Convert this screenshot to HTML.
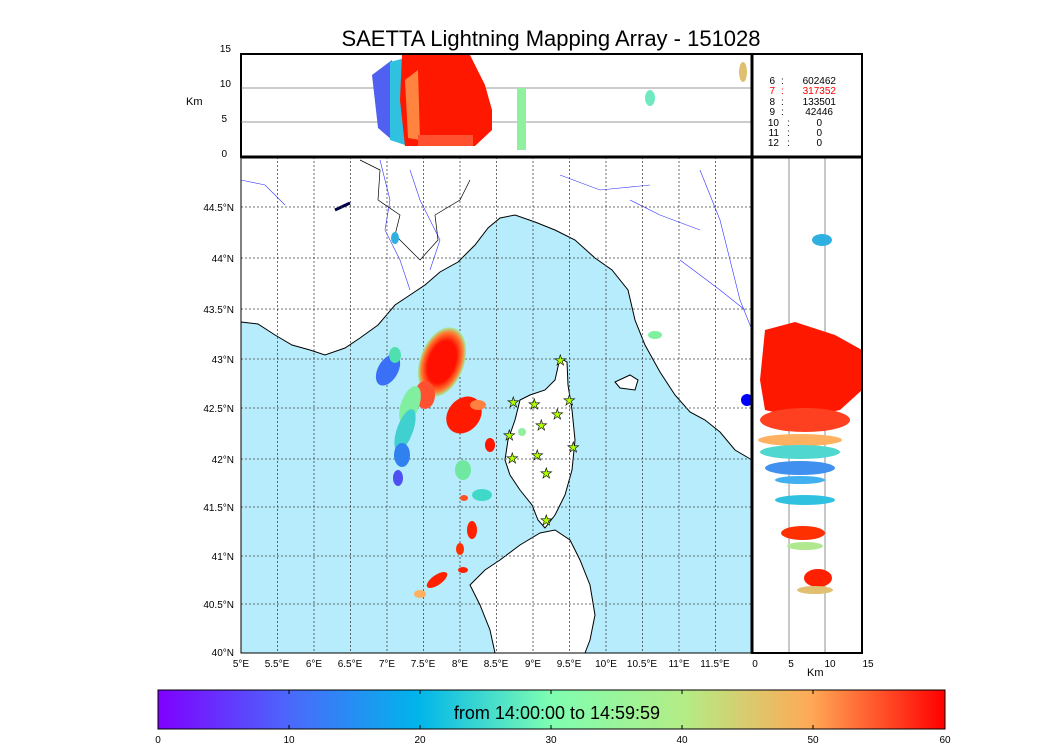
<!DOCTYPE html>
<html><head><meta charset="utf-8"><style>
body{margin:0;background:#fff;width:1050px;height:750px;overflow:hidden;font-family:"Liberation Sans",sans-serif}
</style></head><body>
<svg width="1050" height="750" viewBox="0 0 1050 750" xmlns="http://www.w3.org/2000/svg" font-family="Liberation Sans, sans-serif">
<defs>
<linearGradient id="rb" x1="0" x2="1" y1="0" y2="0">
<stop offset="0" stop-color="#7f00ff"/><stop offset="0.17" stop-color="#4a6afb"/><stop offset="0.33" stop-color="#00b5eb"/><stop offset="0.5" stop-color="#7ffeb1"/><stop offset="0.67" stop-color="#b4ec85"/><stop offset="0.83" stop-color="#ffa956"/><stop offset="1" stop-color="#ff0000"/>
</linearGradient>
<radialGradient id="redg"><stop offset="0.6" stop-color="#ff1000"/><stop offset="0.85" stop-color="#ff7a30"/><stop offset="1" stop-color="#9ff0a0"/></radialGradient>
</defs>
<text x="551" y="46" font-size="22" text-anchor="middle">SAETTA Lightning Mapping Array - 151028</text>

<!-- main map -->
<rect x="241" y="157" width="511" height="496" fill="#fff"/>
<path d="M241,322 L258,324 L275,335 L292,345 L310,350 L325,355 L345,348 L360,338 L378,325 L395,305 L410,295 L425,285 L440,272 L458,262 L475,245 L488,228 L500,218 L515,215 L535,222 L555,230 L575,240 L595,258 L612,270 L628,290 L635,320 L645,345 L660,372 L675,395 L690,412 L705,420 L720,432 L735,450 L752,460 L752,653 L241,653 Z" fill="#b6ecfb" stroke="#000" stroke-width="1"/>
<path d="M560,358 L567,362 L568,385 L572,410 L575,440 L572,470 L565,495 L555,515 L545,528 L538,520 L532,505 L520,490 L510,475 L505,460 L508,440 L515,420 L520,400 L530,395 L545,390 L555,380 Z" fill="#fff" stroke="#000"/>
<path d="M540,533 L555,530 L570,540 L580,560 L590,585 L595,615 L590,640 L585,653 L495,653 L490,630 L480,605 L470,585 L485,570 L500,560 L520,545 Z" fill="#fff" stroke="#000"/>
<path d="M615,382 L630,375 L638,380 L635,390 L620,388 Z" fill="#fff" stroke="#000"/>
<g stroke="#33f" stroke-width="0.6" fill="none">
<path d="M241,180 L265,185 L285,205"/><path d="M380,160 L390,200 L385,230 L400,260 L410,290"/><path d="M700,170 L720,220 L740,300 L752,330"/><path d="M630,200 L660,215 L700,230"/><path d="M560,175 L600,190 L650,185"/><path d="M680,260 L720,290 L745,310"/>
<path d="M410,170 L420,200 L440,240 L430,270"/>
</g>
<g stroke="#000" stroke-width="0.7" fill="none"><path d="M360,160 L380,170 L378,200 L400,215 L395,235 L420,260 L438,240 L435,215 L460,200 L470,180"/></g>
<path d="M335,210 L350,203" stroke="#004" stroke-width="3"/>
<g stroke="#444" stroke-width="0.8" stroke-dasharray="2,2">
<path d="M277.5,157V653M314,157V653M350.5,157V653M387,157V653M423.5,157V653M460,157V653M496.5,157V653M533,157V653M569.5,157V653M606,157V653M642.5,157V653M679,157V653M715.5,157V653"/>
<path d="M241,207H752M241,258H752M241,309H752M241,359H752M241,408H752M241,459H752M241,507H752M241,556H752M241,604H752"/>
</g>
<g>
<ellipse cx="442" cy="362" rx="22" ry="36" fill="url(#redg)" transform="rotate(20 442 362)"/>
<ellipse cx="425" cy="395" rx="10" ry="14" fill="#ff5030"/>
<ellipse cx="410" cy="405" rx="9" ry="20" fill="#80f0a0" transform="rotate(20 410 405)"/>
<ellipse cx="405" cy="430" rx="8" ry="22" fill="#40d0d0" transform="rotate(20 405 430)"/>
<ellipse cx="402" cy="455" rx="8" ry="12" fill="#3080f0"/>
<ellipse cx="398" cy="478" rx="5" ry="8" fill="#5050f0"/>
<ellipse cx="388" cy="370" rx="10" ry="17" fill="#3a70f5" transform="rotate(30 388 370)"/>
<ellipse cx="395" cy="355" rx="6" ry="8" fill="#50e0b0"/>
<ellipse cx="464" cy="415" rx="16" ry="20" fill="#ff1a00" transform="rotate(40 464 415)"/>
<ellipse cx="478" cy="405" rx="8" ry="5" fill="#ff8040"/>
<ellipse cx="490" cy="445" rx="5" ry="7" fill="#ff1500"/>
<ellipse cx="463" cy="470" rx="8" ry="10" fill="#70e8a0"/>
<ellipse cx="482" cy="495" rx="10" ry="6" fill="#40d8c8"/>
<ellipse cx="464" cy="498" rx="4" ry="3" fill="#ff5020"/>
<ellipse cx="472" cy="530" rx="5" ry="9" fill="#ff2000"/>
<ellipse cx="460" cy="549" rx="4" ry="6" fill="#ff3000"/>
<ellipse cx="463" cy="570" rx="5" ry="3" fill="#ff2000"/>
<ellipse cx="437" cy="580" rx="12" ry="5" fill="#ff2000" transform="rotate(-35 437 580)"/>
<ellipse cx="420" cy="594" rx="6" ry="4" fill="#ffb060"/>
<ellipse cx="655" cy="335" rx="7" ry="4" fill="#80f0a0"/>
<ellipse cx="395" cy="238" rx="4" ry="6" fill="#30b0e0"/>
<ellipse cx="522" cy="432" rx="4" ry="4" fill="#90f0a0"/>
</g>
<g fill="#afff00" stroke="#000" stroke-width="0.6" font-size="14">
<text x="554" y="365">★</text><text x="507" y="407">★</text><text x="528" y="409">★</text><text x="563" y="405">★</text><text x="551" y="419">★</text><text x="535" y="430">★</text><text x="503" y="440">★</text><text x="567" y="452">★</text><text x="506" y="463">★</text><text x="531" y="460">★</text><text x="540" y="478">★</text><text x="540" y="525">★</text>
</g>
<rect x="241" y="157" width="511" height="496" fill="none" stroke="#000" stroke-width="1"/>
<g font-size="10" text-anchor="end">
<text x="234" y="211">44.5°N</text><text x="234" y="262">44°N</text><text x="234" y="313">43.5°N</text><text x="234" y="363">43°N</text><text x="234" y="412">42.5°N</text><text x="234" y="463">42°N</text><text x="234" y="511">41.5°N</text><text x="234" y="560">41°N</text><text x="234" y="608">40.5°N</text><text x="234" y="656">40°N</text>
</g>
<g font-size="10" text-anchor="middle">
<text x="241" y="667">5°E</text><text x="277" y="667">5.5°E</text><text x="314" y="667">6°E</text><text x="350" y="667">6.5°E</text><text x="387" y="667">7°E</text><text x="423" y="667">7.5°E</text><text x="460" y="667">8°E</text><text x="496" y="667">8.5°E</text><text x="533" y="667">9°E</text><text x="569" y="667">9.5°E</text><text x="606" y="667">10°E</text><text x="642" y="667">10.5°E</text><text x="679" y="667">11°E</text><text x="715" y="667">11.5°E</text>
</g>

<!-- top panel -->
<rect x="241" y="54" width="511" height="103" fill="#fff" stroke="#000" stroke-width="2"/>
<path d="M241,88H752M241,122H752" stroke="#777" stroke-width="0.8"/>
<path d="M372,75 L392,60 L392,140 L378,128 Z" fill="#5060f0"/>
<path d="M390,62 L405,58 L405,145 L390,140 Z" fill="#30c0e0"/>
<path d="M402,55 L470,55 L485,85 L492,110 L492,130 L475,146 L405,146 L400,100 Z" fill="#ff1800"/>
<path d="M405,80 L418,70 L420,140 L408,138 Z" fill="#ffa050" opacity="0.8"/>
<rect x="418" y="135" width="55" height="11" fill="#ff5030"/>
<rect x="517" y="88" width="9" height="62" fill="#90f0a0"/>
<ellipse cx="650" cy="98" rx="5" ry="8" fill="#70e8c0"/>
<ellipse cx="743" cy="72" rx="4" ry="10" fill="#e0c070"/>
<g font-size="10" text-anchor="end"><text x="231" y="52">15</text><text x="231" y="87">10</text><text x="227" y="122">5</text><text x="227" y="157">0</text></g>
<text x="186" y="105" font-size="11">Km</text>

<!-- legend panel -->
<rect x="752" y="54" width="110" height="103" fill="#fff" stroke="#000" stroke-width="2"/>
<g font-size="10">
<g text-anchor="end"><text x="775" y="84">6</text><text x="775" y="94" fill="#f00">7</text><text x="775" y="105">8</text><text x="775" y="115">9</text><text x="779" y="126">10</text><text x="779" y="136">11</text><text x="779" y="146">12</text></g>
<g><text x="781" y="84">:</text><text x="781" y="94" fill="#f00">:</text><text x="781" y="105">:</text><text x="781" y="115">:</text><text x="787" y="126">:</text><text x="787" y="136">:</text><text x="787" y="146">:</text></g>
<g text-anchor="end"><text x="836" y="84">602462</text><text x="836" y="94" fill="#f00">317352</text><text x="836" y="105">133501</text><text x="833" y="115">42446</text><text x="822" y="126">0</text><text x="822" y="136">0</text><text x="822" y="146">0</text></g>
</g>

<!-- right panel -->
<rect x="752" y="157" width="110" height="496" fill="#fff"/>
<path d="M789,157V653M825,157V653" stroke="#777" stroke-width="0.8"/>
<path d="M765,330 L795,322 L835,335 L862,350 L862,390 L840,410 L800,418 L765,410 L760,380 Z" fill="#ff1800"/>
<ellipse cx="805" cy="420" rx="45" ry="12" fill="#ff4020"/>
<ellipse cx="800" cy="440" rx="42" ry="6" fill="#ffb060"/>
<ellipse cx="800" cy="452" rx="40" ry="7" fill="#50d8d0"/>
<ellipse cx="800" cy="468" rx="35" ry="7" fill="#4090f0"/>
<ellipse cx="800" cy="480" rx="25" ry="4" fill="#40b0f0"/>
<ellipse cx="805" cy="500" rx="30" ry="5" fill="#30c0e0"/>
<ellipse cx="803" cy="533" rx="22" ry="7" fill="#ff3000"/>
<ellipse cx="805" cy="546" rx="18" ry="4" fill="#b0e890"/>
<ellipse cx="818" cy="578" rx="14" ry="9" fill="#ff2000"/>
<ellipse cx="815" cy="590" rx="18" ry="4" fill="#e0c070"/>
<ellipse cx="822" cy="240" rx="10" ry="6" fill="#30b0e0"/>
<circle cx="747" cy="400" r="6" fill="#00f"/>
<rect x="752" y="157" width="110" height="496" fill="none" stroke="#000" stroke-width="2"/>
<line x1="752" y1="54" x2="752" y2="653" stroke="#000" stroke-width="3"/>
<line x1="241" y1="157" x2="862" y2="157" stroke="#000" stroke-width="3"/>
<g font-size="10" text-anchor="middle"><text x="755" y="667">0</text><text x="791" y="667">5</text><text x="830" y="667">10</text><text x="868" y="667">15</text></g>
<text x="807" y="676" font-size="11">Km</text>

<!-- colorbar -->
<rect x="158" y="690" width="787" height="39" fill="url(#rb)" stroke="#000"/>
<text x="557" y="719" font-size="18" text-anchor="middle">from 14:00:00 to 14:59:59</text>
<g stroke="#000"><path d="M158,729v-4M289,729v-4M420,729v-4M551,729v-4M682,729v-4M813,729v-4M945,729v-4M158,690v4M289,690v4M420,690v4M551,690v4M682,690v4M813,690v4M945,690v4"/></g>
<g font-size="10" text-anchor="middle"><text x="158" y="743">0</text><text x="289" y="743">10</text><text x="420" y="743">20</text><text x="551" y="743">30</text><text x="682" y="743">40</text><text x="813" y="743">50</text><text x="945" y="743">60</text></g>
</svg>
</body></html>
